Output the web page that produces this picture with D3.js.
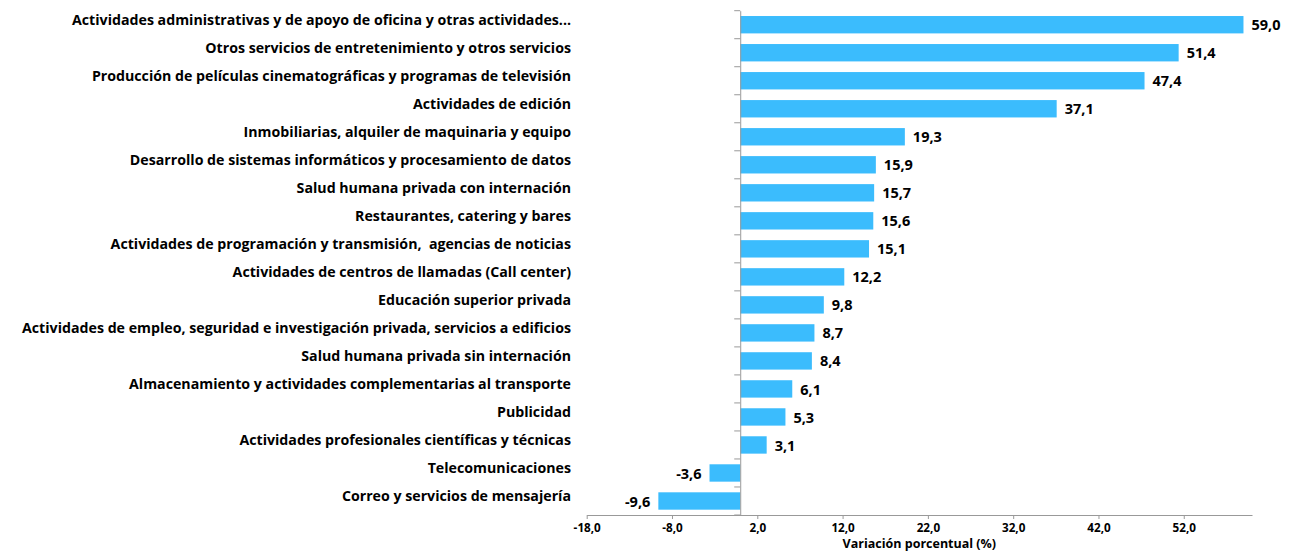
<!DOCTYPE html>
<meta charset="utf-8">
<script src="https://d3js.org/d3.v7.min.js"></script>
<style>
  body { margin: 0; background: #fff; }
  text { font-family: "Open Sans", sans-serif; font-weight: 700; fill: #000; }
</style>
<body>
<div id="chart"></div>
<script>
// categories, top to bottom
var categories = [
  "Actividades administrativas y de apoyo de oficina y otras actividades...",
  "Otros servicios de entretenimiento y otros servicios",
  "Producción de películas cinematográficas y programas de televisión",
  "Actividades de edición",
  "Inmobiliarias, alquiler de maquinaria y equipo",
  "Desarrollo de sistemas informáticos y procesamiento de datos",
  "Salud humana privada con internación",
  "Restaurantes, catering y bares",
  "Actividades de programación y transmisión,  agencias de noticias",
  "Actividades de centros de llamadas (Call center)",
  "Educación superior privada",
  "Actividades de empleo, seguridad e investigación privada, servicios a edificios",
  "Salud humana privada sin internación",
  "Almacenamiento y actividades complementarias al transporte",
  "Publicidad",
  "Actividades profesionales científicas y técnicas",
  "Telecomunicaciones",
  "Correo y servicios de mensajería"
];
var values = [59.0, 51.4, 47.4, 37.1, 19.3, 15.9, 15.7, 15.6, 15.1, 12.2, 9.8, 8.7, 8.4, 6.1, 5.3, 3.1, -3.6, -9.6];
var xTicks = [-18, -8, 2, 12, 22, 32, 42, 52];
var axisTitle = "Variación porcentual (%)";

var W = 1289, H = 552;
var fmt = function(v) { return v.toFixed(1).replace(".", ","); };

var svg = d3.select("#chart").append("svg")
    .attr("width", W)
    .attr("height", H);

// x scale
var x = d3.scaleLinear()
  .domain([-18, 60])
  .range([586.7, 1252]);

// y scale
var y = d3.scaleBand()
  .domain(categories)
  .range([10.7, 515])
  .paddingInner(0.38)
  .paddingOuter(0.19);

// bars
svg.selectAll("rect.bar")
  .data(values)
  .enter().append("rect")
    .attr("class", "bar")
    .attr("x", function(d) { return x(Math.min(0, d)); })
    .attr("y", function(d, i) { return y(categories[i]); })
    .attr("width", function(d) { return Math.abs(x(d) - x(0)); })
    .attr("height", y.bandwidth())
    .attr("fill", "#3bbcfd");

// value labels
svg.selectAll("text.val")
  .data(values)
  .enter().append("text")
    .attr("class", "val")
    .attr("x", function(d) { return d >= 0 ? x(d) + 8 : x(d) - 8; })
    .attr("y", function(d, i) { return y(categories[i]) + y.bandwidth() / 2 + 0.5; })
    .attr("dy", "0.35em")
    .attr("text-anchor", function(d) { return d >= 0 ? "start" : "end"; })
    .style("font-size", "14.5px")
    .text(fmt);

// category labels
svg.selectAll("text.cat")
  .data(categories)
  .enter().append("text")
    .attr("class", "cat")
    .attr("x", 571)
    .attr("y", function(d) { return y(d) + y.bandwidth() / 2 - 5; })
    .attr("dy", "0.35em")
    .attr("text-anchor", "end")
    .style("font-size", "14.2px")
    .style("white-space", "pre")
    .text(function(d) { return d; });

// x axis
var xAxis = svg.append("g")
  .attr("transform", "translate(0,515)")
  .call(d3.axisBottom(x).tickValues(xTicks).tickSize(4).tickSizeOuter(0).tickFormat(fmt));
xAxis.select(".domain").attr("stroke", "#999");
xAxis.selectAll(".tick line").attr("stroke", "#999");
xAxis.selectAll(".tick text")
  .attr("y", 9)
  .style("font-size", "11.7px")
  .style("font-family", "\"Open Sans\", sans-serif");

// y axis at zero
var yAxis = svg.append("g")
  .attr("transform", "translate(" + x(0) + ",0)")
  .call(d3.axisLeft(y).tickSize(6).tickSizeOuter(0).tickFormat(""));
yAxis.select(".domain").attr("stroke", "#999");
yAxis.selectAll(".tick line")
  .attr("stroke", "#999")
  .attr("transform", "translate(0," + (-y.bandwidth() / 2 - y.step() * y.paddingInner() / 2) + ")");
// bottom-most boundary tick
yAxis.append("line")
  .attr("x1", -6).attr("x2", 0)
  .attr("y1", 515).attr("y2", 515)
  .attr("stroke", "#999");

// axis title
svg.append("text")
  .attr("x", (x.range()[0] + x.range()[1]) / 2)
  .attr("y", 548)
  .attr("text-anchor", "middle")
  .style("font-size", "12.5px")
  .text(axisTitle);
</script>
</body>
